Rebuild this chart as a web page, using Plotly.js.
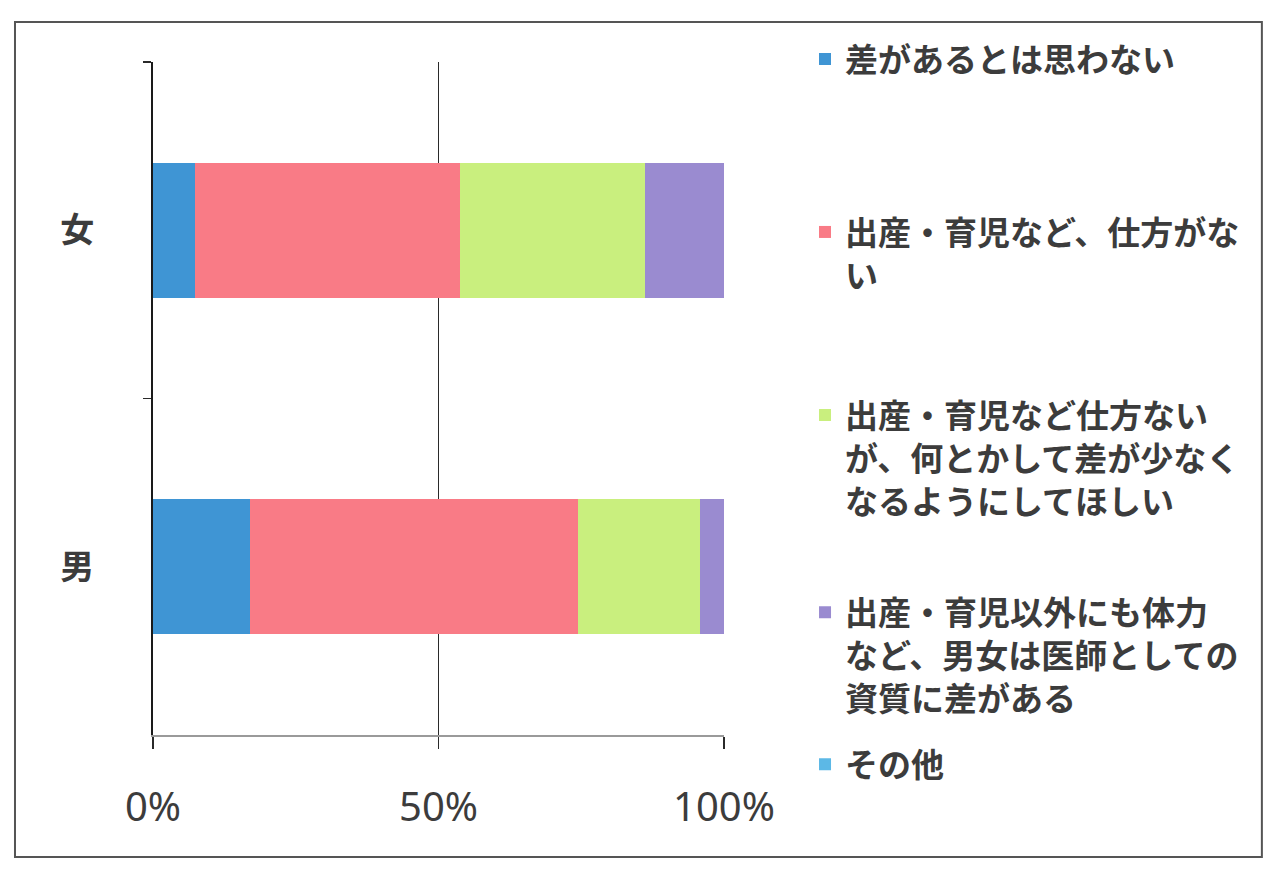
<!DOCTYPE html>
<html>
<head>
<meta charset="utf-8">
<script src="https://cdn.plot.ly/plotly-3.0.1.min.js"></script>
<style>html,body{margin:0;padding:0;background:#fff;}#chart{width:1268px;height:892px;}</style>
</head>
<body>
<div id="chart"></div>
<script>
// Data
const categories = ['女', '男'];
const seriesNames = [
  '差があるとは思わない',
  '出産・育児など、仕方がな<br>い',
  '出産・育児など仕方ない<br>が、何とかして差が少なく<br>なるようにしてほしい',
  '出産・育児以外にも体力<br>など、男女は医師としての<br>資質に差がある',
  'その他'
];
const noDiff      = [7.4, 17.0];
const cannotHelp  = [46.4, 57.4];
const reduceGap   = [32.4, 21.4];
const qualityDiff = [13.8, 4.2];
const other       = [0, 0];
const xTickVals   = [0, 50, 100];
const xTickText   = ['0%', '50%', '100%'];

const seriesValues = [noDiff, cannotHelp, reduceGap, qualityDiff, other];
const colors = ['#3f95d4', '#f97b86', '#c9ef7e', '#9a8bd0', '#5cb8e6'];
const legendNames = ['legend', 'legend2', 'legend3', 'legend4', 'legend5'];
const legendY = [1.046, 0.789, 0.517, 0.224, -0.002];

const cjk = '"Noto Sans CJK JP", "Noto Sans", sans-serif';

const traces = seriesValues.map((vals, i) => ({
  type: 'bar',
  orientation: 'h',
  name: seriesNames[i],
  x: vals,
  y: categories,
  marker: {color: colors[i], line: {width: 0}},
  legend: legendNames[i],
  hoverinfo: 'x+name'
}));

const layout = {
  width: 1268,
  height: 892,
  margin: {l: 153, r: 544, t: 62, b: 157},
  paper_bgcolor: '#ffffff',
  plot_bgcolor: '#ffffff',
  barmode: 'stack',
  bargap: 0.6,
  xaxis: {
    range: [0, 100],
    tickvals: xTickVals,
    ticktext: xTickText,
    showgrid: true,
    gridcolor: '#2a2a2a',
    gridwidth: 1.5,
    zeroline: false,
    showline: true,
    linecolor: '#9a9a9a',
    linewidth: 1.5,
    ticks: 'outside',
    ticklen: 12,
    tickcolor: '#2a2a2a',
    tickwidth: 1.5,
    ticklabelstandoff: 24,
    tickfont: {family: '"Noto Sans", sans-serif', size: 40, color: '#3c3c3c'},
    fixedrange: true
  },
  yaxis: {
    type: 'category',
    autorange: 'reversed',
    tickson: 'boundaries',
    ticks: 'outside',
    ticklen: 8,
    tickcolor: '#2a2a2a',
    tickwidth: 1.5,
    showline: true,
    linecolor: '#1a1a1a',
    linewidth: 2,
    showgrid: false,
    zeroline: false,
    ticklabelstandoff: 50,
    tickfont: {family: cjk, size: 34, color: '#3c3c3c', weight: 'bold'},
    fixedrange: true
  },
  shapes: [{
    type: 'rect', xref: 'paper', yref: 'paper',
    x0: -0.2417, x1: 1.942, y0: -0.1813, y1: 1.0594,
    line: {color: '#555555', width: 2}, fillcolor: 'rgba(0,0,0,0)'
  }],
  showlegend: true
};

legendNames.forEach((ln, i) => {
  layout[ln] = {
    x: 1.1419, xanchor: 'left',
    y: legendY[i], yanchor: 'top',
    bgcolor: 'rgba(0,0,0,0)',
    borderwidth: 0,
    valign: 'top',
    font: {family: cjk, size: 33, color: '#3c3c3c', weight: 'bold'}
  };
});

Plotly.newPlot('chart', traces, layout, {displayModeBar: false, staticPlot: true});
</script>
</body>
</html>
